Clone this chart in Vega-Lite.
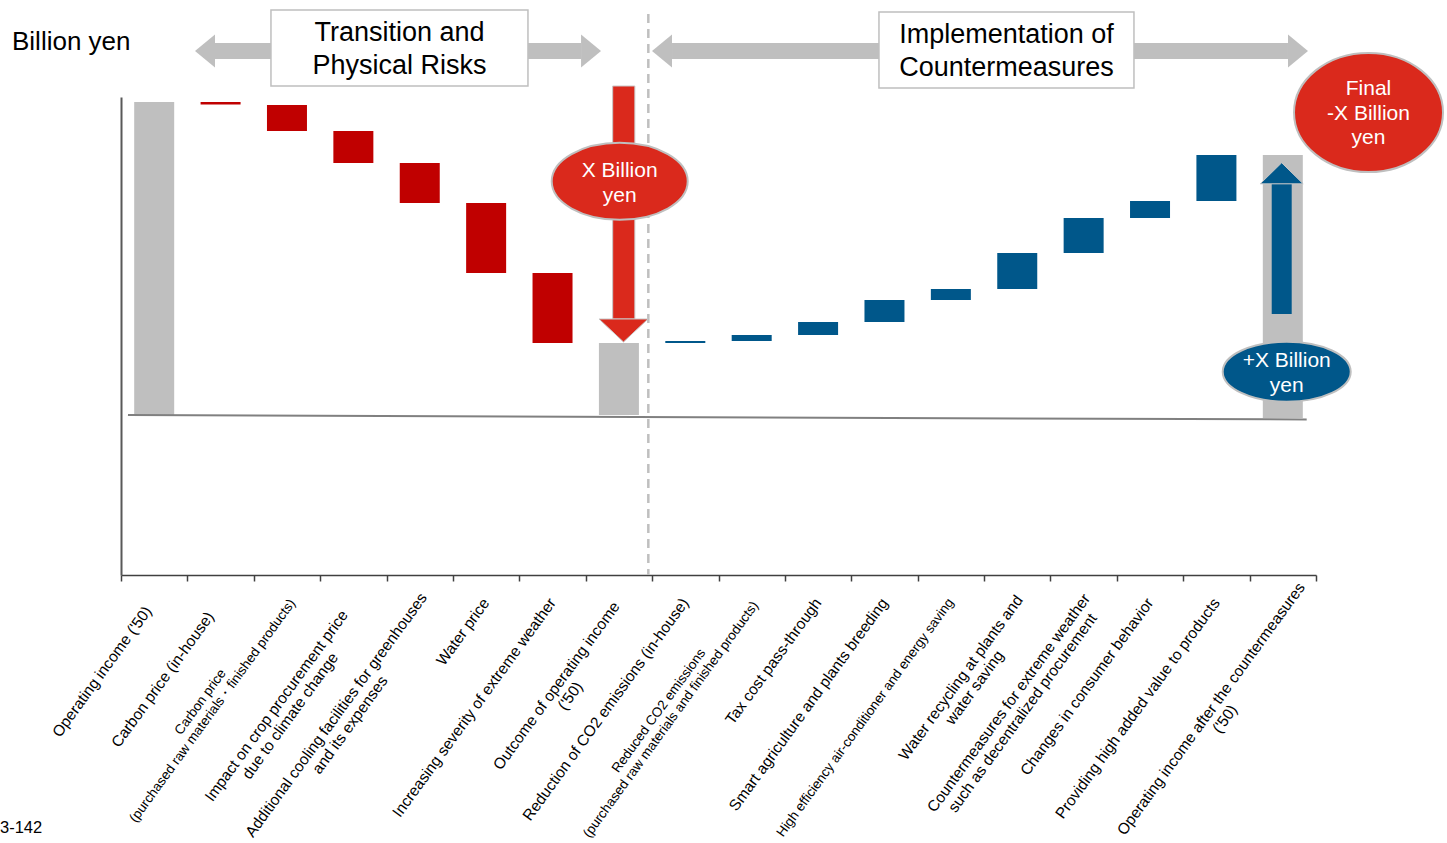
{
  "$schema": "https://vega.github.io/schema/vega-lite/v6.json",
  "width": 1195,
  "height": 478,
  "autosize": {"type": "none"},
  "padding": {"left": 121, "top": 97, "right": 131, "bottom": 268},
  "background": "white",
  "config": {"view": {"stroke": null}, "font": "Liberation Sans"},
  "datasets": {
    "bars": [
      {"idx": 0, "label": "Operating income ('50)", "start": 0, "end": 313, "kind": "total"},
      {"idx": 1, "label": "Carbon price (in-house)", "start": 313, "end": 310.5, "kind": "risk"},
      {"idx": 2, "label": ["Carbon price", "(purchased raw materials・finished products)"], "start": 310, "end": 284, "kind": "risk"},
      {"idx": 3, "label": ["Impact on crop procurement price", "due to climate change"], "start": 284, "end": 252, "kind": "risk"},
      {"idx": 4, "label": ["Additional cooling facilities for greenhouses", "and its expenses"], "start": 252, "end": 212, "kind": "risk"},
      {"idx": 5, "label": "Water price", "start": 212, "end": 142, "kind": "risk"},
      {"idx": 6, "label": "Increasing severity of extreme weather", "start": 142, "end": 72, "kind": "risk"},
      {"idx": 7, "label": ["Outcome of operating income", "('50)"], "start": 0, "end": 72, "kind": "total"},
      {"idx": 8, "label": "Reduction of  CO2 emissions (in-house)", "start": 72, "end": 74, "kind": "measure"},
      {"idx": 9, "label": ["Reduced CO2 emissions", "(purchased raw materials and finished products)"], "start": 74, "end": 80, "kind": "measure"},
      {"idx": 10, "label": "Tax cost pass-through", "start": 80, "end": 93, "kind": "measure"},
      {"idx": 11, "label": "Smart agriculture and plants breeding", "start": 93, "end": 115, "kind": "measure"},
      {"idx": 12, "label": "High efficiency air-conditioner and energy saving", "start": 115, "end": 126, "kind": "measure"},
      {"idx": 13, "label": ["Water recycling at plants and", "water saving"], "start": 126, "end": 162, "kind": "measure"},
      {"idx": 14, "label": ["Countermeasures for extreme weather", "such as decentralized procurement"], "start": 162, "end": 197, "kind": "measure"},
      {"idx": 15, "label": "Changes in consumer behavior", "start": 197, "end": 214, "kind": "measure"},
      {"idx": 16, "label": "Providing high added value to products", "start": 214, "end": 260, "kind": "measure"},
      {"idx": 17, "label": ["Operating income after the countermeasures", "('50)"], "start": -3, "end": 260, "kind": "total"}
    ],
    "baseline": [{"ax": -0.395, "ax2": 17.36, "ay": 0, "ay2": -4.5}],
    "divider": [{"ax": 7.443, "ay": 401, "ay2": -160}],
    "shafts": [
      {"ax": 0.916, "ax2": 6.429, "ay": 364},
      {"ax": 7.8, "ax2": 17.078, "ay": 364}
    ],
    "heads": [
      {"ax": 0.765, "ay": 364, "dir": "left"},
      {"ax": 6.58, "ay": 364, "dir": "right"},
      {"ax": 7.649, "ay": 364, "dir": "left"},
      {"ax": 17.229, "ay": 364, "dir": "right"}
    ],
    "boxes": [
      {"ax": 1.759, "ax2": 5.63, "ay": 405, "ay2": 329},
      {"ax": 10.917, "ax2": 14.758, "ay": 403, "ay2": 327}
    ],
    "boxText": [
      {"ax": 3.695, "ay": 382, "txt": ["Transition and", "Physical Risks"]},
      {"ax": 12.838, "ay": 380, "txt": ["Implementation of", "Countermeasures"]}
    ],
    "unitText": [{"ax": -2.142, "ay": 373, "txt": "Billion yen"}],
    "pageText": [{"ax": -2.323, "ay": -413, "txt": "3-142"}],
    "redShaft": [{"ax": 6.906, "ax2": 7.24, "ay": 329, "ay2": 96}],
    "redHead": [{"ax": 7.069, "ay": 84.5}],
    "redBubble": [{"ax": 7.012, "ay": 233.7}],
    "blueShaft": [{"ax": 16.833, "ax2": 17.134, "ay": 101, "ay2": 231}],
    "blueHead": [{"ax": 16.983, "ay": 241.7}],
    "blueBubble": [{"ax": 17.059, "ay": 43.3}],
    "finalBubble": [{"ax": 18.291, "ay": 302.5}],
    "bubbleText": [
      {"ax": 7.012, "ay": 244, "txt": ["X Billion", "yen"]},
      {"ax": 17.059, "ay": 54, "txt": ["+X Billion", "yen"]},
      {"ax": 18.291, "ay": 326, "txt": ["Final", "-X Billion", "yen"]}
    ]
  },
  "layer": [
    {
      "data": {"name": "bars"},
      "mark": {"type": "bar", "width": 40},
      "encoding": {
        "x": {
          "field": "idx", "type": "quantitative",
          "scale": {"domain": [-0.5, 17.5], "nice": false, "zero": false, "padding": 0},
          "axis": {
            "title": null,
            "values": [-0.5, 0.5, 1.5, 2.5, 3.5, 4.5, 5.5, 6.5, 7.5, 8.5, 9.5, 10.5, 11.5, 12.5, 13.5, 14.5, 15.5, 16.5, 17.5],
            "labels": false,
            "tickSize": 6,
            "tickColor": "#404040",
            "tickWidth": 1.5,
            "domainColor": "#404040",
            "domainWidth": 1.5,
            "grid": false
          }
        },
        "y": {
          "field": "start", "type": "quantitative",
          "scale": {"domain": [-160, 318], "nice": false, "zero": false},
          "axis": {"title": null, "labels": false, "ticks": false, "grid": false, "domainColor": "#595959", "domainWidth": 2}
        },
        "y2": {"field": "end"},
        "color": {
          "field": "kind", "type": "nominal",
          "scale": {"domain": ["total", "risk", "measure"], "range": ["#BFBFBF", "#C00000", "#00578A"]},
          "legend": null
        }
      }
    },
    {
      "data": {"name": "bars"},
      "transform": [{"filter": "!isArray(datum.label)"}],
      "mark": {
        "type": "text", "angle": -54, "align": "right", "baseline": "middle", "color": "#000000",
        "dx": {"expr": "datum.idx == 0 ? -10 : datum.idx == 1 ? -17 : 0"}
      },
      "encoding": {
        "x": {"field": "idx", "type": "quantitative", "scale": {"domain": [-0.5, 17.5], "nice": false, "zero": false, "padding": 0}},
        "y": {"datum": -185, "type": "quantitative", "scale": {"domain": [-160, 318], "nice": false, "zero": false}},
        "text": {"field": "label"},
        "size": {"condition": {"test": "datum.idx == 12", "value": 13.5}, "value": 15.5}
      }
    },
    {
      "data": {"name": "bars"},
      "transform": [{"filter": "datum.idx == 2 || datum.idx == 9"}],
      "mark": {
        "type": "text", "angle": -54, "align": "center", "baseline": "middle", "color": "#000000",
        "fontSize": 13.5, "lineHeight": 15, "dy": -10,
        "dx": {"expr": "-6 - 0.5*13.5*max(0.545*length(replace(datum.label[0], regexp('[iltfjr() -]','g'), '')) + 0.26*(length(datum.label[0]) - length(replace(datum.label[0], regexp('[iltfjr() -]','g'), ''))), 0.545*length(replace(datum.label[1], regexp('[iltfjr() -]','g'), '')) + 0.26*(length(datum.label[1]) - length(replace(datum.label[1], regexp('[iltfjr() -]','g'), ''))))"}
      },
      "encoding": {
        "x": {"field": "idx", "type": "quantitative", "scale": {"domain": [-0.5, 17.5], "nice": false, "zero": false, "padding": 0}},
        "y": {"datum": -185, "type": "quantitative", "scale": {"domain": [-160, 318], "nice": false, "zero": false}},
        "text": {"field": "label"}
      }
    },
    {
      "data": {"name": "bars"},
      "transform": [{"filter": "isArray(datum.label) && datum.idx != 2 && datum.idx != 9"}],
      "mark": {
        "type": "text", "angle": -54, "align": "center", "baseline": "middle", "color": "#000000",
        "fontSize": 15.5, "lineHeight": 17,
        "dy": {"expr": "datum.idx == 17 ? 6 : 0"},
        "dx": {"expr": "(datum.idx == 17 ? 14 : datum.idx == 3 ? -20 : datum.idx == 7 ? -12 : datum.idx == 4 ? 6 : datum.idx == 14 ? -6 : 0) - 0.5*15.5*max(0.545*length(replace(datum.label[0], regexp('[iltfjr() -]','g'), '')) + 0.26*(length(datum.label[0]) - length(replace(datum.label[0], regexp('[iltfjr() -]','g'), ''))), 0.545*length(replace(datum.label[1], regexp('[iltfjr() -]','g'), '')) + 0.26*(length(datum.label[1]) - length(replace(datum.label[1], regexp('[iltfjr() -]','g'), ''))))"}
      },
      "encoding": {
        "x": {"field": "idx", "type": "quantitative", "scale": {"domain": [-0.5, 17.5], "nice": false, "zero": false, "padding": 0}},
        "y": {"datum": -185, "type": "quantitative", "scale": {"domain": [-160, 318], "nice": false, "zero": false}},
        "text": {"field": "label"}
      }
    },
    {
      "data": {"name": "divider"},
      "mark": {"type": "rule", "color": "#BFBFBF", "strokeWidth": 2.5, "strokeDash": [9, 6]},
      "encoding": {
        "x": {"field": "ax", "type": "quantitative", "scale": {"domain": [-0.5, 17.5], "nice": false, "zero": false, "padding": 0}},
        "y": {"field": "ay", "type": "quantitative", "scale": {"domain": [-160, 318], "nice": false, "zero": false}},
        "y2": {"field": "ay2"}
      }
    },
    {
      "data": {"name": "baseline"},
      "mark": {"type": "rule", "color": "#808080", "strokeWidth": 2},
      "encoding": {
        "x": {"field": "ax", "type": "quantitative", "scale": {"domain": [-0.5, 17.5], "nice": false, "zero": false, "padding": 0}},
        "x2": {"field": "ax2"},
        "y": {"field": "ay", "type": "quantitative", "scale": {"domain": [-160, 318], "nice": false, "zero": false}},
        "y2": {"field": "ay2"}
      }
    },
    {
      "data": {"name": "shafts"},
      "mark": {"type": "rule", "color": "#BFBFBF", "strokeWidth": 16, "strokeCap": "butt"},
      "encoding": {
        "x": {"field": "ax", "type": "quantitative", "scale": {"domain": [-0.5, 17.5], "nice": false, "zero": false, "padding": 0}},
        "x2": {"field": "ax2"},
        "y": {"field": "ay", "type": "quantitative", "scale": {"domain": [-160, 318], "nice": false, "zero": false}}
      }
    },
    {
      "data": {"name": "heads"},
      "mark": {"type": "point", "filled": true, "size": 1089, "opacity": 1, "color": "#BFBFBF"},
      "encoding": {
        "x": {"field": "ax", "type": "quantitative", "scale": {"domain": [-0.5, 17.5], "nice": false, "zero": false, "padding": 0}},
        "y": {"field": "ay", "type": "quantitative", "scale": {"domain": [-160, 318], "nice": false, "zero": false}},
        "shape": {"field": "dir", "type": "nominal", "scale": {"domain": ["left", "right"], "range": ["M-0.606,0L0.606,-1L0.606,1Z", "M0.606,0L-0.606,-1L-0.606,1Z"]}, "legend": null}
      }
    },
    {
      "data": {"name": "boxes"},
      "mark": {"type": "rect", "fill": "#FFFFFF", "stroke": "#BFBFBF", "strokeWidth": 1.5},
      "encoding": {
        "x": {"field": "ax", "type": "quantitative", "scale": {"domain": [-0.5, 17.5], "nice": false, "zero": false, "padding": 0}},
        "x2": {"field": "ax2"},
        "y": {"field": "ay", "type": "quantitative", "scale": {"domain": [-160, 318], "nice": false, "zero": false}},
        "y2": {"field": "ay2"}
      }
    },
    {
      "data": {"name": "boxText"},
      "mark": {"type": "text", "fontSize": 27, "lineHeight": 33, "align": "center", "baseline": "middle", "color": "#000000"},
      "encoding": {
        "x": {"field": "ax", "type": "quantitative", "scale": {"domain": [-0.5, 17.5], "nice": false, "zero": false, "padding": 0}},
        "y": {"field": "ay", "type": "quantitative", "scale": {"domain": [-160, 318], "nice": false, "zero": false}},
        "text": {"field": "txt"}
      }
    },
    {
      "data": {"name": "unitText"},
      "mark": {"type": "text", "fontSize": 26, "align": "left", "baseline": "middle", "color": "#000000"},
      "encoding": {
        "x": {"field": "ax", "type": "quantitative", "scale": {"domain": [-0.5, 17.5], "nice": false, "zero": false, "padding": 0}},
        "y": {"field": "ay", "type": "quantitative", "scale": {"domain": [-160, 318], "nice": false, "zero": false}},
        "text": {"field": "txt"}
      }
    },
    {
      "data": {"name": "pageText"},
      "mark": {"type": "text", "fontSize": 16.5, "align": "left", "baseline": "middle", "color": "#000000"},
      "encoding": {
        "x": {"field": "ax", "type": "quantitative", "scale": {"domain": [-0.5, 17.5], "nice": false, "zero": false, "padding": 0}},
        "y": {"field": "ay", "type": "quantitative", "scale": {"domain": [-160, 318], "nice": false, "zero": false}},
        "text": {"field": "txt"}
      }
    },
    {
      "data": {"name": "redShaft"},
      "mark": {"type": "rect", "fill": "#DA291C", "stroke": "#C8C8C8", "strokeWidth": 1},
      "encoding": {
        "x": {"field": "ax", "type": "quantitative", "scale": {"domain": [-0.5, 17.5], "nice": false, "zero": false, "padding": 0}},
        "x2": {"field": "ax2"},
        "y": {"field": "ay", "type": "quantitative", "scale": {"domain": [-160, 318], "nice": false, "zero": false}},
        "y2": {"field": "ay2"}
      }
    },
    {
      "data": {"name": "redHead"},
      "mark": {"type": "point", "filled": true, "opacity": 1, "size": 2401, "shape": "M-1,-0.47L1,-0.47L0,0.47Z", "fill": "#DA291C", "stroke": "#C8C8C8", "strokeWidth": 1},
      "encoding": {
        "x": {"field": "ax", "type": "quantitative", "scale": {"domain": [-0.5, 17.5], "nice": false, "zero": false, "padding": 0}},
        "y": {"field": "ay", "type": "quantitative", "scale": {"domain": [-160, 318], "nice": false, "zero": false}}
      }
    },
    {
      "data": {"name": "redBubble"},
      "mark": {"type": "point", "filled": true, "opacity": 1, "size": 18496, "shape": "M-1,0A1,0.566,0,1,1,1,0A1,0.566,0,1,1,-1,0Z", "fill": "#DA291C", "stroke": "#BFBFBF", "strokeWidth": 2},
      "encoding": {
        "x": {"field": "ax", "type": "quantitative", "scale": {"domain": [-0.5, 17.5], "nice": false, "zero": false, "padding": 0}},
        "y": {"field": "ay", "type": "quantitative", "scale": {"domain": [-160, 318], "nice": false, "zero": false}}
      }
    },
    {
      "data": {"name": "blueShaft"},
      "mark": {"type": "rect", "fill": "#00578A"},
      "encoding": {
        "x": {"field": "ax", "type": "quantitative", "scale": {"domain": [-0.5, 17.5], "nice": false, "zero": false, "padding": 0}},
        "x2": {"field": "ax2"},
        "y": {"field": "ay", "type": "quantitative", "scale": {"domain": [-160, 318], "nice": false, "zero": false}},
        "y2": {"field": "ay2"}
      }
    },
    {
      "data": {"name": "blueHead"},
      "mark": {"type": "point", "filled": true, "opacity": 1, "size": 1849, "shape": "M-1,0.49L1,0.49L0,-0.49Z", "fill": "#00578A", "stroke": "#C8C8C8", "strokeWidth": 1},
      "encoding": {
        "x": {"field": "ax", "type": "quantitative", "scale": {"domain": [-0.5, 17.5], "nice": false, "zero": false, "padding": 0}},
        "y": {"field": "ay", "type": "quantitative", "scale": {"domain": [-160, 318], "nice": false, "zero": false}}
      }
    },
    {
      "data": {"name": "blueBubble"},
      "mark": {"type": "point", "filled": true, "opacity": 1, "size": 16384, "shape": "M-1,0A1,0.469,0,1,1,1,0A1,0.469,0,1,1,-1,0Z", "fill": "#00578A", "stroke": "#BFBFBF", "strokeWidth": 2},
      "encoding": {
        "x": {"field": "ax", "type": "quantitative", "scale": {"domain": [-0.5, 17.5], "nice": false, "zero": false, "padding": 0}},
        "y": {"field": "ay", "type": "quantitative", "scale": {"domain": [-160, 318], "nice": false, "zero": false}}
      }
    },
    {
      "data": {"name": "finalBubble"},
      "mark": {"type": "point", "filled": true, "opacity": 1, "size": 22201, "shape": "M-1,0A1,0.8,0,1,1,1,0A1,0.8,0,1,1,-1,0Z", "fill": "#DA291C", "stroke": "#BFBFBF", "strokeWidth": 2},
      "encoding": {
        "x": {"field": "ax", "type": "quantitative", "scale": {"domain": [-0.5, 17.5], "nice": false, "zero": false, "padding": 0}},
        "y": {"field": "ay", "type": "quantitative", "scale": {"domain": [-160, 318], "nice": false, "zero": false}}
      }
    },
    {
      "data": {"name": "bubbleText"},
      "mark": {"type": "text", "fontSize": 21, "lineHeight": 24.5, "align": "center", "baseline": "middle", "color": "#FFFFFF"},
      "encoding": {
        "x": {"field": "ax", "type": "quantitative", "scale": {"domain": [-0.5, 17.5], "nice": false, "zero": false, "padding": 0}},
        "y": {"field": "ay", "type": "quantitative", "scale": {"domain": [-160, 318], "nice": false, "zero": false}},
        "text": {"field": "txt"}
      }
    }
  ]
}
